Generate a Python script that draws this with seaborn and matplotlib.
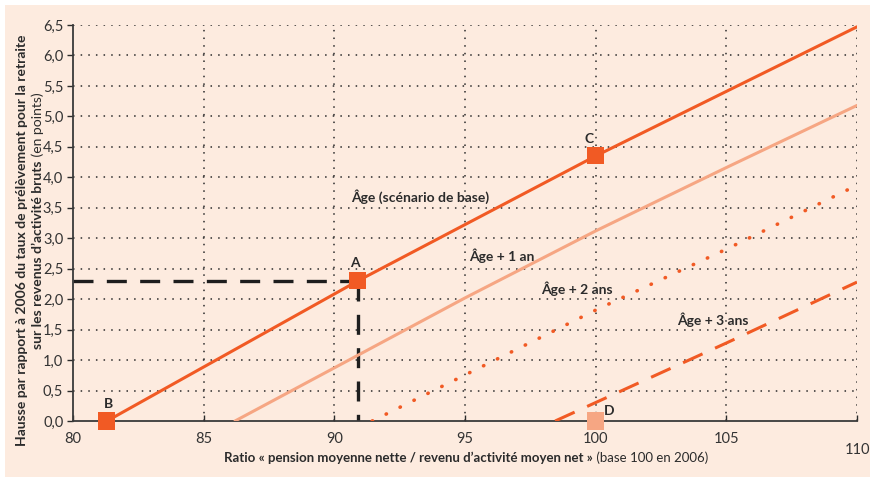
import matplotlib
matplotlib.use("Agg")
import matplotlib.pyplot as plt
import seaborn as sns
from matplotlib.patches import Rectangle

# Données
base_x = [81.3, 90.9, 100, 110]
base_y = [0.0, 2.3, 4.35, 6.47]

plus1_x = [86.2, 95, 100, 105, 110]
plus1_y = [0.0, 2.02, 3.12, 4.16, 5.18]

plus2_x = [91.45, 100, 105, 110]
plus2_y = [0.0, 1.82, 2.82, 3.87]

plus3_x = [98.45, 105, 110]
plus3_y = [0.0, 1.28, 2.28]

points = ["A", "B", "C", "D"]
points_x = [90.9, 81.3, 100, 100]
points_y = [2.3, 0.0, 4.35, 0.0]

x_ticks = [80, 85, 90, 95, 100, 105, 110]
y_ticks = [0.0, 0.5, 1.0, 1.5, 2.0, 2.5, 3.0, 3.5, 4.0, 4.5, 5.0, 5.5, 6.0, 6.5]

DARK = "#f15a24"
LIGHT = "#f6a683"
BG = "#fdebdf"
INK = "#2b2b2b"

sns.set_style("ticks")
plt.rcParams["font.family"] = ["Lato", "DejaVu Sans"]

fig = plt.figure(figsize=(8.73, 4.8), dpi=100, facecolor="white")
fig.patches.append(Rectangle((5 / 873, 3 / 480), 1 - 8 / 873, 1 - 8 / 480,
                             transform=fig.transFigure, facecolor=BG,
                             edgecolor="none", zorder=-10))
ax = fig.add_axes([73 / 873, 59 / 480, 784 / 873, 396 / 480])
ax.set_facecolor(BG)

# Grille pointillée
for t in y_ticks[1:]:
    ax.axhline(t, color=INK, lw=1.1, ls=(0, (1, 4)), zorder=0)
for t in x_ticks[1:]:
    ax.axvline(t, color=INK, lw=1.1, ls=(0, (1, 4)), zorder=0)

# Repères pointillés noirs vers A
ax.plot([80, points_x[0]], [points_y[0], points_y[0]], color="#1e1e1e", lw=2.4,
        ls=(0, (6, 4)), zorder=2)
ax.plot([points_x[0], points_x[0]], [points_y[0], 0], color="#1e1e1e", lw=2.4,
        ls=(0, (6, 4)), zorder=2)

sns.lineplot(x=base_x, y=base_y, ax=ax, color=DARK, lw=2.2, zorder=3)
sns.lineplot(x=plus1_x, y=plus1_y, ax=ax, color=LIGHT, lw=2.2, zorder=3)
sns.lineplot(x=plus2_x, y=plus2_y, ax=ax, color=DARK, lw=2.6,
             linestyle=(0, (0.1, 4.2)), dash_capstyle="round", zorder=3)
sns.lineplot(x=plus3_x, y=plus3_y, ax=ax, color=DARK, lw=2.2,
             linestyle=(0, (7, 4.5)), zorder=3)

marker_colors = [DARK, DARK, DARK, LIGHT]
for px, py, c in zip(points_x, points_y, marker_colors):
    sns.scatterplot(x=[px], y=[py], ax=ax, marker="s", s=150, color=c,
                    edgecolor="none", zorder=5, clip_on=False)

# Étiquettes des points
lab_kw = dict(fontsize=10, fontweight="bold", color=INK)
ax.text(90.8, 2.5, "A", ha="center", va="bottom", **lab_kw)
ax.text(81.35, 0.18, "B", ha="center", va="bottom", **lab_kw)
ax.text(99.75, 4.53, "C", ha="center", va="bottom", **lab_kw)
ax.text(100.3, 0.06, "D", ha="left", va="bottom", **lab_kw)

# Libellés des courbes
txt_kw = dict(fontsize=10, fontweight="bold", color=INK, ha="center", va="center")
ax.text(93.3, 3.68, "Âge (scénario de base)", **txt_kw)
ax.text(96.4, 2.72, "Âge + 1 an", **txt_kw)
ax.text(99.3, 2.17, "Âge + 2 ans", **txt_kw)
ax.text(104.5, 1.66, "Âge + 3 ans", **txt_kw)

ax.set_xlim(80, 110)
ax.set_ylim(0, 6.5)
ax.set_xticks(x_ticks)
ax.set_xticklabels([str(t) for t in x_ticks])
ax.set_yticks(y_ticks)
ax.set_yticklabels([f"{t:.1f}".replace(".", ",") for t in y_ticks])
ax.tick_params(axis="x", direction="in", length=4, width=1, color=INK,
               labelsize=10.5, labelcolor="#333333", pad=8)
ax.tick_params(axis="y", direction="out", length=4, width=1, color=INK,
               labelsize=10.5, labelcolor="#333333", pad=3)
ax.xaxis.get_major_ticks()[-1].set_pad(16)

for side in ["top", "right"]:
    ax.spines[side].set_visible(False)
for side in ["left", "bottom"]:
    ax.spines[side].set_color("#3a3a3a")
    ax.spines[side].set_linewidth(1.3)

# Titre de l'axe x (gras + normal)
xl = fig.text(0.468, 18 / 480, "Ratio « pension moyenne nette / revenu d’activité moyen net »",
              fontsize=9.5, fontweight="bold", color=INK, ha="center", va="baseline")
fig.canvas.draw()
ax.annotate(" (base 100 en 2006)", xy=(1, 0), xycoords=xl, fontsize=9.5,
            color=INK, ha="left", va="bottom", annotation_clip=False)

# Titre de l'axe y sur deux lignes
fig.text(22 / 873, 0.5, "Hausse par rapport à 2006 du taux de prélèvement pour la retraite",
         rotation=90, fontsize=10, fontweight="bold", color=INK, ha="center", va="center")
yl2 = fig.text(38 / 873, 0.47, "sur les revenus d’activité bruts",
               rotation=90, fontsize=10, fontweight="bold", color=INK, ha="center", va="center")
ax.annotate(" (en points)", xy=(0.5, 1), xycoords=yl2, rotation=90, fontsize=10,
            color=INK, ha="center", va="bottom", annotation_clip=False)

fig.savefig("out.png", dpi=100, facecolor=fig.get_facecolor())
